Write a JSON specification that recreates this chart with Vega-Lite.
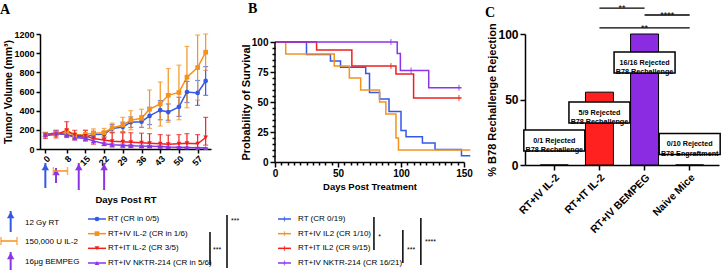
{
  "$schema": "https://vega.github.io/schema/vega-lite/v6.json",
  "background": "white",
  "padding": {"left": 0, "top": 2, "right": 0, "bottom": 0},
  "config": {
    "view": {"stroke": null},
    "font": "Liberation Sans",
    "axis": {"grid": false, "domainColor": "black", "domainWidth": 1.5, "tickColor": "black", "tickWidth": 1.5, "labelColor": "black", "labelFontWeight": "bold", "titleColor": "black", "titleFontWeight": "bold", "labelFont": "Liberation Sans", "titleFont": "Liberation Sans", "labelFlush": false, "labelOverlap": false, "labelBound": false},
    "title": {"font": "Liberation Serif", "fontWeight": "bold", "fontSize": 14, "anchor": "start", "frame": "group", "color": "black"}
  },
  "datasets": {
    "tumor": [
      {"series":"RT","day":0,"mean":150,"up":20,"dn":-20},{"series":"RT","day":4,"mean":160,"up":25,"dn":-25},{"series":"RT","day":8,"mean":150,"up":25,"dn":-25},{"series":"RT","day":11,"mean":130,"up":20,"dn":-20},{"series":"RT","day":15,"mean":125,"up":20,"dn":-20},{"series":"RT","day":18,"mean":150,"up":25,"dn":-25},{"series":"RT","day":22,"mean":155,"up":30,"dn":-30},{"series":"RT","day":25,"mean":215,"up":40,"dn":-40},{"series":"RT","day":29,"mean":230,"up":50,"dn":-50},{"series":"RT","day":32,"mean":280,"up":55,"dn":-55},{"series":"RT","day":36,"mean":285,"up":60,"dn":-60},{"series":"RT","day":39,"mean":345,"up":90,"dn":-90},{"series":"RT","day":43,"mean":405,"up":100,"dn":-100},{"series":"RT","day":46,"mean":385,"up":85,"dn":-85},{"series":"RT","day":50,"mean":440,"up":100,"dn":-100},{"series":"RT","day":53,"mean":595,"up":110,"dn":-110},{"series":"RT","day":57,"mean":585,"up":130,"dn":-130},{"series":"RT","day":60,"mean":710,"up":150,"dn":-150},
      {"series":"RT+IV IL-2","day":0,"mean":150,"up":25,"dn":-25},{"series":"RT+IV IL-2","day":4,"mean":165,"up":30,"dn":-30},{"series":"RT+IV IL-2","day":8,"mean":175,"up":30,"dn":-30},{"series":"RT+IV IL-2","day":11,"mean":140,"up":30,"dn":-30},{"series":"RT+IV IL-2","day":15,"mean":155,"up":40,"dn":-40},{"series":"RT+IV IL-2","day":18,"mean":165,"up":45,"dn":-45},{"series":"RT+IV IL-2","day":22,"mean":170,"up":45,"dn":-45},{"series":"RT+IV IL-2","day":25,"mean":220,"up":50,"dn":-50},{"series":"RT+IV IL-2","day":29,"mean":250,"up":80,"dn":-80},{"series":"RT+IV IL-2","day":32,"mean":300,"up":100,"dn":-100},{"series":"RT+IV IL-2","day":36,"mean":320,"up":95,"dn":-95},{"series":"RT+IV IL-2","day":39,"mean":415,"up":200,"dn":-200},{"series":"RT+IV IL-2","day":43,"mean":470,"up":230,"dn":-230},{"series":"RT+IV IL-2","day":46,"mean":560,"up":280,"dn":-280},{"series":"RT+IV IL-2","day":50,"mean":590,"up":285,"dn":-285},{"series":"RT+IV IL-2","day":53,"mean":750,"up":320,"dn":-320},{"series":"RT+IV IL-2","day":57,"mean":850,"up":340,"dn":-340},{"series":"RT+IV IL-2","day":60,"mean":1010,"up":190,"dn":-190},
      {"series":"RT+IT IL-2","day":0,"mean":140,"up":30,"dn":-30},{"series":"RT+IT IL-2","day":4,"mean":150,"up":35,"dn":-35},{"series":"RT+IT IL-2","day":8,"mean":195,"up":90,"dn":-60},{"series":"RT+IT IL-2","day":11,"mean":145,"up":50,"dn":-50},{"series":"RT+IT IL-2","day":15,"mean":135,"up":60,"dn":-50},{"series":"RT+IT IL-2","day":18,"mean":110,"up":75,"dn":-60},{"series":"RT+IT IL-2","day":22,"mean":95,"up":80,"dn":-60},{"series":"RT+IT IL-2","day":25,"mean":80,"up":90,"dn":-60},{"series":"RT+IT IL-2","day":29,"mean":75,"up":95,"dn":-60},{"series":"RT+IT IL-2","day":32,"mean":70,"up":100,"dn":-55},{"series":"RT+IT IL-2","day":36,"mean":65,"up":100,"dn":-50},{"series":"RT+IT IL-2","day":39,"mean":60,"up":100,"dn":-45},{"series":"RT+IT IL-2","day":43,"mean":55,"up":95,"dn":-40},{"series":"RT+IT IL-2","day":46,"mean":50,"up":95,"dn":-40},{"series":"RT+IT IL-2","day":50,"mean":55,"up":95,"dn":-40},{"series":"RT+IT IL-2","day":53,"mean":60,"up":100,"dn":-45},{"series":"RT+IT IL-2","day":57,"mean":55,"up":95,"dn":-40},{"series":"RT+IT IL-2","day":60,"mean":120,"up":210,"dn":-80},
      {"series":"RT+IV NKTR-214","day":0,"mean":150,"up":20,"dn":-20},{"series":"RT+IV NKTR-214","day":4,"mean":170,"up":25,"dn":-25},{"series":"RT+IV NKTR-214","day":8,"mean":150,"up":30,"dn":-30},{"series":"RT+IV NKTR-214","day":11,"mean":120,"up":25,"dn":-25},{"series":"RT+IV NKTR-214","day":15,"mean":110,"up":25,"dn":-25},{"series":"RT+IV NKTR-214","day":18,"mean":85,"up":20,"dn":-20},{"series":"RT+IV NKTR-214","day":22,"mean":55,"up":15,"dn":-15},{"series":"RT+IV NKTR-214","day":25,"mean":45,"up":15,"dn":-15},{"series":"RT+IV NKTR-214","day":29,"mean":40,"up":12,"dn":-12},{"series":"RT+IV NKTR-214","day":32,"mean":35,"up":10,"dn":-10},{"series":"RT+IV NKTR-214","day":36,"mean":30,"up":10,"dn":-10},{"series":"RT+IV NKTR-214","day":39,"mean":28,"up":10,"dn":-10},{"series":"RT+IV NKTR-214","day":43,"mean":25,"up":8,"dn":-8},{"series":"RT+IV NKTR-214","day":46,"mean":20,"up":8,"dn":-8},{"series":"RT+IV NKTR-214","day":50,"mean":18,"up":6,"dn":-6},{"series":"RT+IV NKTR-214","day":53,"mean":15,"up":5,"dn":-5},{"series":"RT+IV NKTR-214","day":57,"mean":12,"up":5,"dn":-5},{"series":"RT+IV NKTR-214","day":60,"mean":10,"up":5,"dn":-5}
    ],
    "arrows": [
      {"agent":"RT","day":0,"tip":-146,"tail":-407},
      {"agent":"BEMPEG","day":4,"tip":-198,"tail":-355},
      {"agent":"BEMPEG","day":12.5,"tip":-146,"tail":-428},
      {"agent":"BEMPEG","day":22,"tip":-146,"tail":-428}
    ],
    "il2": [{"agent":"IL-2","start":3,"end":8.3,"level":-229}],
    "surv": [
      {"series":"RT","t":0,"s":100},{"series":"RT","t":25,"s":89.5},{"series":"RT","t":44,"s":84.2},{"series":"RT","t":52,"s":78.9},{"series":"RT","t":72,"s":73.7},{"series":"RT","t":75,"s":57.9},{"series":"RT","t":83,"s":52.6},{"series":"RT","t":90.5,"s":42.1},{"series":"RT","t":100,"s":26.3},{"series":"RT","t":104,"s":21.1},{"series":"RT","t":117,"s":15.8},{"series":"RT","t":127,"s":10.5},{"series":"RT","t":148,"s":5.3},{"series":"RT","t":155,"s":5.3},
      {"series":"RT+IV IL-2","t":0,"s":100},{"series":"RT+IV IL-2","t":8.5,"s":90},{"series":"RT+IV IL-2","t":47,"s":80},{"series":"RT+IV IL-2","t":59,"s":70},{"series":"RT+IV IL-2","t":68,"s":60},{"series":"RT+IV IL-2","t":83,"s":50},{"series":"RT+IV IL-2","t":88,"s":40},{"series":"RT+IV IL-2","t":96,"s":20},{"series":"RT+IV IL-2","t":98,"s":10},{"series":"RT+IV IL-2","t":155,"s":10},
      {"series":"RT+IT IL-2","t":0,"s":100},{"series":"RT+IT IL-2","t":33,"s":93.3},{"series":"RT+IT IL-2","t":61,"s":80},{"series":"RT+IT IL-2","t":96,"s":73.3},{"series":"RT+IT IL-2","t":110,"s":53.3},{"series":"RT+IT IL-2","t":148,"s":53.3},
      {"series":"RT+IV NKTR-214","t":0,"s":100},{"series":"RT+IV NKTR-214","t":97,"s":90.5},{"series":"RT+IV NKTR-214","t":99.5,"s":76.2},{"series":"RT+IV NKTR-214","t":122,"s":61.9},{"series":"RT+IV NKTR-214","t":148,"s":61.9}
    ],
    "censor": [
      {"series":"RT+IV NKTR-214","t":92,"s":100},{"series":"RT+IV NKTR-214","t":108,"s":76.2},{"series":"RT+IV NKTR-214","t":146,"s":61.9},
      {"series":"RT+IT IL-2","t":92,"s":80},{"series":"RT+IT IL-2","t":146,"s":53.3}
    ],
    "yline": [{"lo": 0, "hi": 100}],
    "bars": [
      {"group":"RT+IV IL-2","pct":0,"note":["0/1 Rejected","B78 Rechallenge"],"noteY":18.7},
      {"group":"RT+IT IL-2","pct":55.6,"note":["5/9 Rejected","B78 Rechallenge"],"noteY":40},
      {"group":"RT+IV BEMPEG","pct":100,"note":["16/16 Rejected","B78 Rechallenge"],"noteY":78.2},
      {"group":"Naive Mice","pct":0,"note":["0/10 Rejected","B78 Engraftment"],"noteY":16}
    ],
    "sig": [
      {"from":"RT+IT IL-2","to":"RT+IV BEMPEG","level":119.8,"label":"**","pos":"edge","mid":"RT+IT IL-2"},
      {"from":"RT+IV BEMPEG","to":"Naive Mice","level":114.5,"label":"****","pos":"edge","mid":"RT+IV BEMPEG"},
      {"from":"RT+IT IL-2","to":"Naive Mice","level":104.6,"label":"**","pos":"center","mid":"RT+IV BEMPEG"}
    ],
    "legA": [
      {"series":"RT","label":"RT (CR in 0/5)","row":0},
      {"series":"RT+IV IL-2","label":"RT+IV IL-2 (CR in 1/6)","row":1},
      {"series":"RT+IT IL-2","label":"RT+IT IL-2 (CR 3/5)","row":2},
      {"series":"RT+IV NKTR-214","label":"RT+IV NKTR-214 (CR in 5/6)","row":3}
    ],
    "legB": [
      {"series":"RT","label":"RT (CR 0/19)","row":0},
      {"series":"RT+IV IL-2","label":"RT+IV IL2 (CR 1/10)","row":1},
      {"series":"RT+IT IL-2","label":"RT+IT IL2 (CR 9/15)","row":2},
      {"series":"RT+IV NKTR-214","label":"RT+IV NKTR-214 (CR 16/21)","row":3}
    ],
    "legT": [
      {"agent":"RT","label":"12 Gy RT","row":0.27},
      {"agent":"IL-2","label":"150,000 U IL-2","row":1.57},
      {"agent":"BEMPEG","label":"16μg BEMPEG","row":2.93}
    ],
    "legArrows": [
      {"agent":"RT","tip":-0.545,"tail":0.886},
      {"agent":"BEMPEG","tip":2.25,"tail":3.61}
    ],
    "legIL2": [{"agent":"IL-2","start":-9.31,"end":-5.49,"row":1.5}],
    "legSig": [
      {"x":40.57,"r1":0.886,"r2":3.14,"label":"***","lx":41.3,"lr":2.11},
      {"x":44.63,"r1":-0.27,"r2":3.34,"label":"***","lx":45.6,"lr":0.14},
      {"x":79.7,"r1":-0.14,"r2":2.11,"label":"*","lx":80.7,"lr":1.23},
      {"x":86.6,"r1":0.75,"r2":3.0,"label":"***","lx":87.6,"lr":2.11},
      {"x":90.9,"r1":-0.07,"r2":3.14,"label":"****","lx":91.9,"lr":1.57}
    ]
  },
  "spacing": 11,
  "resolve": {"scale": {"color": "independent", "shape": "independent"}},
  "hconcat": [
    {
      "spacing": 6,
      "resolve": {"scale": {"color": "independent", "shape": "independent"}},
      "vconcat": [
        {
          "spacing": 29,
          "resolve": {"scale": {"color": "independent", "shape": "independent"}},
          "hconcat": [
            {
              "width": 171,
              "height": 115,
              "title": {"text": "A", "dx": -40, "offset": 13},
              "layer": [
                {
                  "data": {"name": "tumor"},
                  "mark": {"type": "line", "strokeWidth": 1.5},
                  "encoding": {
                    "x": {"field": "day", "type": "quantitative", "scale": {"domain": [-2, 62], "nice": false, "zero": false},
                      "axis": {"values": [0, 8, 15, 22, 29, 36, 43, 50, 57], "labelAngle": -45, "labelFontSize": 9, "tickSize": 4, "labelPadding": 1, "labelOverlap": false, "title": "Days Post RT", "titleFontSize": 9.5, "titlePadding": 27}},
                    "y": {"field": "mean", "type": "quantitative", "scale": {"domain": [0, 1200], "nice": false},
                      "axis": {"values": [0, 200, 400, 600, 800, 1000, 1200], "format": "d", "labelFontSize": 9, "tickSize": 4, "labelPadding": 2, "labelOverlap": false, "title": "Tumor Volume (mm³)", "titleFontSize": 10.5, "titlePadding": 0}},
                    "color": {"field": "series", "type": "nominal", "scale": {"domain": ["RT","RT+IV IL-2","RT+IT IL-2","RT+IV NKTR-214","IL-2","BEMPEG"], "range": ["#3558e6","#f5921e","#ee2020","#8a35e8","#f5921e","#8a35e8"]}, "legend": null}
                  }
                },
                {
                  "data": {"name": "arrows"},
                  "mark": {"type": "rule", "strokeWidth": 2},
                  "encoding": {
                    "x": {"field": "day", "type": "quantitative", "scale": {"domain": [-2, 62], "nice": false, "zero": false},
                      "axis": {"values": [0, 8, 15, 22, 29, 36, 43, 50, 57], "labelAngle": -45, "labelFontSize": 9, "tickSize": 4, "labelPadding": 1, "labelOverlap": false, "title": "Days Post RT", "titleFontSize": 9.5, "titlePadding": 27}},
                    "y": {"field": "tail", "type": "quantitative", "scale": {"domain": [0, 1200], "nice": false},
                      "axis": {"values": [0, 200, 400, 600, 800, 1000, 1200], "format": "d", "labelFontSize": 9, "tickSize": 4, "labelPadding": 2, "labelOverlap": false, "title": "Tumor Volume (mm³)", "titleFontSize": 10.5, "titlePadding": 0}},
                    "y2": {"field": "tip"},
                    "color": {"field": "agent", "type": "nominal", "legend": null}
                  }
                },
                {
                  "data": {"name": "arrows"},
                  "mark": {"type": "point", "shape": "triangle-up", "filled": true, "size": 55, "opacity": 1, "yOffset": 4},
                  "encoding": {
                    "x": {"field": "day", "type": "quantitative", "scale": {"domain": [-2, 62], "nice": false, "zero": false},
                      "axis": {"values": [0, 8, 15, 22, 29, 36, 43, 50, 57], "labelAngle": -45, "labelFontSize": 9, "tickSize": 4, "labelPadding": 1, "labelOverlap": false, "title": "Days Post RT", "titleFontSize": 9.5, "titlePadding": 27}},
                    "y": {"field": "tip", "type": "quantitative", "scale": {"domain": [0, 1200], "nice": false},
                      "axis": {"values": [0, 200, 400, 600, 800, 1000, 1200], "format": "d", "labelFontSize": 9, "tickSize": 4, "labelPadding": 2, "labelOverlap": false, "title": "Tumor Volume (mm³)", "titleFontSize": 10.5, "titlePadding": 0}},
                    "color": {"field": "agent", "type": "nominal", "legend": null}
                  }
                },
                {
                  "data": {"name": "il2"},
                  "mark": {"type": "rule", "strokeWidth": 1.5},
                  "encoding": {
                    "x": {"field": "start", "type": "quantitative", "scale": {"domain": [-2, 62], "nice": false, "zero": false},
                      "axis": {"values": [0, 8, 15, 22, 29, 36, 43, 50, 57], "labelAngle": -45, "labelFontSize": 9, "tickSize": 4, "labelPadding": 1, "labelOverlap": false, "title": "Days Post RT", "titleFontSize": 9.5, "titlePadding": 27}},
                    "x2": {"field": "end"},
                    "y": {"field": "level", "type": "quantitative", "scale": {"domain": [0, 1200], "nice": false},
                      "axis": {"values": [0, 200, 400, 600, 800, 1000, 1200], "format": "d", "labelFontSize": 9, "tickSize": 4, "labelPadding": 2, "labelOverlap": false, "title": "Tumor Volume (mm³)", "titleFontSize": 10.5, "titlePadding": 0}},
                    "color": {"field": "agent", "type": "nominal", "legend": null}
                  }
                },
                {
                  "data": {"name": "il2"},
                  "mark": {"type": "tick", "orient": "vertical", "size": 8, "thickness": 1.5},
                  "encoding": {
                    "x": {"field": "start", "type": "quantitative", "scale": {"domain": [-2, 62], "nice": false, "zero": false},
                      "axis": {"values": [0, 8, 15, 22, 29, 36, 43, 50, 57], "labelAngle": -45, "labelFontSize": 9, "tickSize": 4, "labelPadding": 1, "labelOverlap": false, "title": "Days Post RT", "titleFontSize": 9.5, "titlePadding": 27}},
                    "y": {"field": "level", "type": "quantitative", "scale": {"domain": [0, 1200], "nice": false},
                      "axis": {"values": [0, 200, 400, 600, 800, 1000, 1200], "format": "d", "labelFontSize": 9, "tickSize": 4, "labelPadding": 2, "labelOverlap": false, "title": "Tumor Volume (mm³)", "titleFontSize": 10.5, "titlePadding": 0}},
                    "color": {"field": "agent", "type": "nominal", "legend": null}
                  }
                },
                {
                  "data": {"name": "il2"},
                  "mark": {"type": "tick", "orient": "vertical", "size": 8, "thickness": 1.5},
                  "encoding": {
                    "x": {"field": "end", "type": "quantitative", "scale": {"domain": [-2, 62], "nice": false, "zero": false},
                      "axis": {"values": [0, 8, 15, 22, 29, 36, 43, 50, 57], "labelAngle": -45, "labelFontSize": 9, "tickSize": 4, "labelPadding": 1, "labelOverlap": false, "title": "Days Post RT", "titleFontSize": 9.5, "titlePadding": 27}},
                    "y": {"field": "level", "type": "quantitative", "scale": {"domain": [0, 1200], "nice": false},
                      "axis": {"values": [0, 200, 400, 600, 800, 1000, 1200], "format": "d", "labelFontSize": 9, "tickSize": 4, "labelPadding": 2, "labelOverlap": false, "title": "Tumor Volume (mm³)", "titleFontSize": 10.5, "titlePadding": 0}},
                    "color": {"field": "agent", "type": "nominal", "legend": null}
                  }
                },
                {
                  "data": {"name": "tumor"},
                  "mark": {"type": "errorbar", "ticks": {"size": 5}, "thickness": 1.2},
                  "encoding": {
                    "x": {"field": "day", "type": "quantitative", "scale": {"domain": [-2, 62], "nice": false, "zero": false},
                      "axis": {"values": [0, 8, 15, 22, 29, 36, 43, 50, 57], "labelAngle": -45, "labelFontSize": 9, "tickSize": 4, "labelPadding": 1, "labelOverlap": false, "title": "Days Post RT", "titleFontSize": 9.5, "titlePadding": 27}},
                    "y": {"field": "mean", "type": "quantitative", "scale": {"domain": [0, 1200], "nice": false},
                      "axis": {"values": [0, 200, 400, 600, 800, 1000, 1200], "format": "d", "labelFontSize": 9, "tickSize": 4, "labelPadding": 2, "labelOverlap": false, "title": "Tumor Volume (mm³)", "titleFontSize": 10.5, "titlePadding": 0}},
                    "yError": {"field": "up"},
                    "yError2": {"field": "dn"},
                    "color": {"field": "series", "type": "nominal", "legend": null}
                  }
                },
                {
                  "data": {"name": "tumor"},
                  "mark": {"type": "point", "filled": true, "size": 22, "opacity": 1},
                  "encoding": {
                    "x": {"field": "day", "type": "quantitative", "scale": {"domain": [-2, 62], "nice": false, "zero": false},
                      "axis": {"values": [0, 8, 15, 22, 29, 36, 43, 50, 57], "labelAngle": -45, "labelFontSize": 9, "tickSize": 4, "labelPadding": 1, "labelOverlap": false, "title": "Days Post RT", "titleFontSize": 9.5, "titlePadding": 27}},
                    "y": {"field": "mean", "type": "quantitative", "scale": {"domain": [0, 1200], "nice": false},
                      "axis": {"values": [0, 200, 400, 600, 800, 1000, 1200], "format": "d", "labelFontSize": 9, "tickSize": 4, "labelPadding": 2, "labelOverlap": false, "title": "Tumor Volume (mm³)", "titleFontSize": 10.5, "titlePadding": 0}},
                    "color": {"field": "series", "type": "nominal", "legend": null},
                    "shape": {"field": "series", "type": "nominal", "scale": {"domain": ["RT","RT+IV IL-2","RT+IT IL-2","RT+IV NKTR-214"], "range": ["circle","square","triangle-down","triangle-up"]}, "legend": null}
                  }
                }
              ]
            },
            {
              "width": 189,
              "height": 128,
              "title": {"text": "B", "dx": -27, "offset": 18},
              "layer": [
                {
                  "data": {"name": "surv"},
                  "mark": {"type": "line", "interpolate": "step-after", "strokeWidth": 1.5},
                  "encoding": {
                    "x": {"field": "t", "type": "quantitative", "scale": {"domain": [0, 150], "nice": false, "zero": false},
                      "axis": {"values": [0,5,10,15,20,25,30,35,40,45,50,55,60,65,70,75,80,85,90,95,100,105,110,115,120,125,130,135,140,145,150], "labelExpr": "datum.value % 50 === 0 ? datum.label : ''", "tickSize": {"condition": {"test": "datum.value % 50 === 0", "value": 5}, "value": 3}, "labelFontSize": 10, "labelPadding": 1, "labelOverlap": false, "title": "Days Post Treatment", "titleFontSize": 9.5, "titlePadding": 3}},
                    "y": {"field": "s", "type": "quantitative", "scale": {"domain": [0, 106.67], "nice": false},
                      "axis": {"values": [0,5,10,15,20,25,30,35,40,45,50,55,60,65,70,75,80,85,90,95,100], "labelExpr": "datum.value % 25 === 0 ? datum.label : ''", "tickSize": {"condition": {"test": "datum.value % 25 === 0", "value": 5}, "value": 3}, "domain": false, "labelFontSize": 10, "labelPadding": 2, "labelOverlap": false, "title": "Probability of Survival", "titleFontSize": 11, "titlePadding": 0, "titleY": 68}},
                    "color": {"field": "series", "type": "nominal", "scale": {"domain": ["RT","RT+IV IL-2","RT+IT IL-2","RT+IV NKTR-214"], "range": ["#3558e6","#f5921e","#ee2020","#8a35e8"]}, "legend": null}
                  }
                },
                {
                  "data": {"name": "censor"},
                  "mark": {"type": "tick", "orient": "vertical", "size": 6, "thickness": 1.2},
                  "encoding": {
                    "x": {"field": "t", "type": "quantitative", "scale": {"domain": [0, 150], "nice": false, "zero": false},
                      "axis": {"values": [0,5,10,15,20,25,30,35,40,45,50,55,60,65,70,75,80,85,90,95,100,105,110,115,120,125,130,135,140,145,150], "labelExpr": "datum.value % 50 === 0 ? datum.label : ''", "tickSize": {"condition": {"test": "datum.value % 50 === 0", "value": 5}, "value": 3}, "labelFontSize": 10, "labelPadding": 1, "labelOverlap": false, "title": "Days Post Treatment", "titleFontSize": 9.5, "titlePadding": 3}},
                    "y": {"field": "s", "type": "quantitative", "scale": {"domain": [0, 106.67], "nice": false},
                      "axis": {"values": [0,5,10,15,20,25,30,35,40,45,50,55,60,65,70,75,80,85,90,95,100], "labelExpr": "datum.value % 25 === 0 ? datum.label : ''", "tickSize": {"condition": {"test": "datum.value % 25 === 0", "value": 5}, "value": 3}, "domain": false, "labelFontSize": 10, "labelPadding": 2, "labelOverlap": false, "title": "Probability of Survival", "titleFontSize": 11, "titlePadding": 0, "titleY": 68}},
                    "color": {"field": "series", "type": "nominal", "legend": null}
                  }
                },
                {
                  "data": {"name": "yline"},
                  "mark": {"type": "rule", "strokeWidth": 1.5, "color": "black"},
                  "encoding": {
                    "x": {"datum": 0, "type": "quantitative", "scale": {"domain": [0, 150], "nice": false, "zero": false},
                      "axis": {"values": [0,5,10,15,20,25,30,35,40,45,50,55,60,65,70,75,80,85,90,95,100,105,110,115,120,125,130,135,140,145,150], "labelExpr": "datum.value % 50 === 0 ? datum.label : ''", "tickSize": {"condition": {"test": "datum.value % 50 === 0", "value": 5}, "value": 3}, "labelFontSize": 10, "labelPadding": 1, "labelOverlap": false, "title": "Days Post Treatment", "titleFontSize": 9.5, "titlePadding": 3}},
                    "y": {"field": "lo", "type": "quantitative", "scale": {"domain": [0, 106.67], "nice": false},
                      "axis": {"values": [0,5,10,15,20,25,30,35,40,45,50,55,60,65,70,75,80,85,90,95,100], "labelExpr": "datum.value % 25 === 0 ? datum.label : ''", "tickSize": {"condition": {"test": "datum.value % 25 === 0", "value": 5}, "value": 3}, "domain": false, "labelFontSize": 10, "labelPadding": 2, "labelOverlap": false, "title": "Probability of Survival", "titleFontSize": 11, "titlePadding": 0, "titleY": 68}},
                    "y2": {"field": "hi"}
                  }
                }
              ]
            }
          ]
        },
        {
          "width": 419,
          "height": 44,
          "layer": [
            {
              "data": {"name": "legA"},
              "mark": {"type": "rule", "strokeWidth": 1.5},
              "encoding": {
                "x": {"datum": 11.46, "type": "quantitative", "scale": {"domain": [0, 100], "nice": false, "zero": false}, "axis": null},
                "x2": {"datum": 15.75},
                "y": {"field": "row", "type": "quantitative", "scale": {"domain": [0, 3], "nice": false, "zero": false, "reverse": true}, "axis": null},
                "color": {"field": "series", "type": "nominal", "scale": {"domain": ["RT","RT+IV IL-2","RT+IT IL-2","RT+IV NKTR-214","IL-2","BEMPEG"], "range": ["#3558e6","#f5921e","#ee2020","#8a35e8","#f5921e","#8a35e8"]}, "legend": null}
              }
            },
            {
              "data": {"name": "legA"},
              "mark": {"type": "point", "filled": true, "size": 22, "opacity": 1},
              "encoding": {
                "x": {"datum": 13.6, "type": "quantitative"},
                "y": {"field": "row", "type": "quantitative"},
                "color": {"field": "series", "type": "nominal", "legend": null},
                "shape": {"field": "series", "type": "nominal", "scale": {"domain": ["RT","RT+IV IL-2","RT+IT IL-2","RT+IV NKTR-214"], "range": ["circle","square","triangle-down","triangle-up"]}, "legend": null}
              }
            },
            {
              "data": {"name": "legA"},
              "mark": {"type": "text", "align": "left", "baseline": "middle", "fontSize": 8, "color": "black"},
              "encoding": {
                "x": {"datum": 16.23, "type": "quantitative"},
                "y": {"field": "row", "type": "quantitative"},
                "text": {"field": "label"}
              }
            },
            {
              "data": {"name": "legB"},
              "mark": {"type": "rule", "strokeWidth": 1.5},
              "encoding": {
                "x": {"datum": 56.8, "type": "quantitative"},
                "x2": {"datum": 59.9},
                "y": {"field": "row", "type": "quantitative"},
                "color": {"field": "series", "type": "nominal", "legend": null}
              }
            },
            {
              "data": {"name": "legB"},
              "mark": {"type": "tick", "orient": "vertical", "size": 5, "thickness": 1.2},
              "encoding": {
                "x": {"datum": 58.35, "type": "quantitative"},
                "y": {"field": "row", "type": "quantitative"},
                "color": {"field": "series", "type": "nominal", "legend": null}
              }
            },
            {
              "data": {"name": "legB"},
              "mark": {"type": "text", "align": "left", "baseline": "middle", "fontSize": 8, "color": "black"},
              "encoding": {
                "x": {"datum": 61.58, "type": "quantitative"},
                "y": {"field": "row", "type": "quantitative"},
                "text": {"field": "label"}
              }
            },
            {
              "data": {"name": "legT"},
              "mark": {"type": "text", "align": "left", "baseline": "middle", "fontSize": 8, "color": "black"},
              "encoding": {
                "x": {"datum": -3.58, "type": "quantitative"},
                "y": {"field": "row", "type": "quantitative"},
                "text": {"field": "label"}
              }
            },
            {
              "data": {"name": "legArrows"},
              "mark": {"type": "rule", "strokeWidth": 2},
              "encoding": {
                "x": {"datum": -7, "type": "quantitative"},
                "y": {"field": "tail", "type": "quantitative"},
                "y2": {"field": "tip"},
                "color": {"field": "agent", "type": "nominal", "legend": null}
              }
            },
            {
              "data": {"name": "legArrows"},
              "mark": {"type": "point", "shape": "triangle-up", "filled": true, "size": 55, "opacity": 1, "yOffset": 4},
              "encoding": {
                "x": {"datum": -7, "type": "quantitative"},
                "y": {"field": "tip", "type": "quantitative"},
                "color": {"field": "agent", "type": "nominal", "legend": null}
              }
            },
            {
              "data": {"name": "legIL2"},
              "mark": {"type": "rule", "strokeWidth": 1.5},
              "encoding": {
                "x": {"field": "start", "type": "quantitative"},
                "x2": {"field": "end"},
                "y": {"field": "row", "type": "quantitative"},
                "color": {"field": "agent", "type": "nominal", "legend": null}
              }
            },
            {
              "data": {"name": "legIL2"},
              "mark": {"type": "tick", "orient": "vertical", "size": 8, "thickness": 1.5},
              "encoding": {
                "x": {"field": "start", "type": "quantitative"},
                "y": {"field": "row", "type": "quantitative"},
                "color": {"field": "agent", "type": "nominal", "legend": null}
              }
            },
            {
              "data": {"name": "legIL2"},
              "mark": {"type": "tick", "orient": "vertical", "size": 8, "thickness": 1.5},
              "encoding": {
                "x": {"field": "end", "type": "quantitative"},
                "y": {"field": "row", "type": "quantitative"},
                "color": {"field": "agent", "type": "nominal", "legend": null}
              }
            },
            {
              "data": {"name": "legSig"},
              "mark": {"type": "rule", "strokeWidth": 1.5, "color": "black"},
              "encoding": {
                "x": {"field": "x", "type": "quantitative"},
                "y": {"field": "r1", "type": "quantitative"},
                "y2": {"field": "r2"}
              }
            },
            {
              "data": {"name": "legSig"},
              "mark": {"type": "text", "align": "left", "baseline": "middle", "fontSize": 7, "color": "black"},
              "encoding": {
                "x": {"field": "lx", "type": "quantitative"},
                "y": {"field": "lr", "type": "quantitative"},
                "text": {"field": "label"}
              }
            }
          ]
        }
      ]
    },
    {
      "width": 194,
      "height": 131,
      "title": {"text": "C", "dx": -40, "offset": -16},
      "data": {"name": "bars"},
      "layer": [
        {
          "mark": {"type": "bar", "stroke": "black", "strokeWidth": 1},
          "encoding": {
            "x": {"field": "group", "type": "nominal", "sort": null, "scale": {"paddingInner": 0.38, "paddingOuter": 0.34},
              "axis": {"labelAngle": -45, "labelFontSize": 10.5, "tickSize": 5, "labelPadding": 2, "title": null}},
            "y": {"field": "pct", "type": "quantitative", "scale": {"domain": [0, 100], "nice": false},
              "axis": {"values": [0, 25, 50, 75, 100], "labelFontSize": 12, "tickSize": 5, "labelPadding": 2, "title": "% B78 Rechallenge Rejection", "titleFontSize": 11, "titlePadding": 0}},
            "color": {"field": "group", "type": "nominal", "scale": {"domain": ["RT+IV IL-2","RT+IT IL-2","RT+IV BEMPEG","Naive Mice"], "range": ["white","#ff2020","#8b2be2","white"]}, "legend": null}
          }
        },
        {
          "mark": {"type": "point", "shape": "M-1,-0.344L1,-0.344L1,0.344L-1,0.344Z", "size": 3721, "fill": "white", "stroke": "black", "strokeWidth": 1.5, "opacity": 1, "fillOpacity": 1},
          "encoding": {
            "x": {"field": "group", "type": "nominal", "sort": null},
            "y": {"field": "noteY", "type": "quantitative"}
          }
        },
        {
          "mark": {"type": "text", "fontSize": 7.2, "fontWeight": "bold", "lineHeight": 9.5, "baseline": "middle", "color": "black"},
          "encoding": {
            "x": {"field": "group", "type": "nominal", "sort": null},
            "y": {"field": "noteY", "type": "quantitative"},
            "text": {"field": "note"}
          }
        },
        {
          "data": {"name": "sig"},
          "mark": {"type": "rule", "strokeWidth": 1.3, "color": "black"},
          "encoding": {
            "x": {"field": "from", "type": "nominal", "sort": null},
            "x2": {"field": "to"},
            "y": {"field": "level", "type": "quantitative"}
          }
        },
        {
          "data": {"name": "sig"},
          "transform": [{"filter": "datum.pos === 'edge'"}],
          "mark": {"type": "text", "fontSize": 9, "baseline": "alphabetic", "dy": 3, "color": "black"},
          "encoding": {
            "x": {"field": "mid", "type": "nominal", "sort": null, "bandPosition": 1.31},
            "y": {"field": "level", "type": "quantitative"},
            "text": {"field": "label"}
          }
        },
        {
          "data": {"name": "sig"},
          "transform": [{"filter": "datum.pos === 'center'"}],
          "mark": {"type": "text", "fontSize": 9, "baseline": "alphabetic", "dy": 3, "color": "black"},
          "encoding": {
            "x": {"field": "mid", "type": "nominal", "sort": null},
            "y": {"field": "level", "type": "quantitative"},
            "text": {"field": "label"}
          }
        }
      ]
    }
  ]
}
